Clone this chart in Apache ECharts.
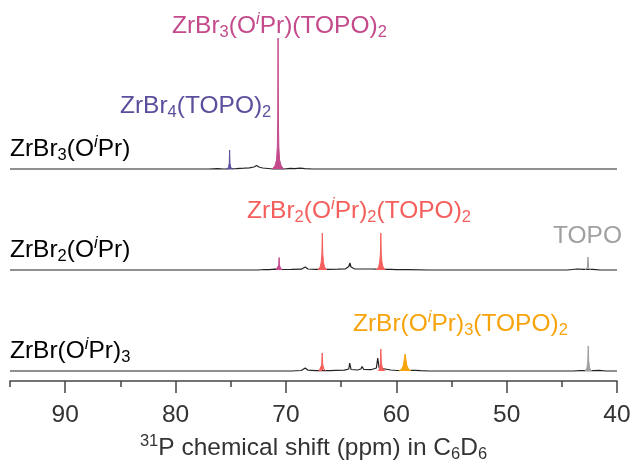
<!DOCTYPE html>
<html>
<head>
<meta charset="utf-8">
<script src="https://cdn.jsdelivr.net/npm/echarts@6/dist/echarts.min.js"></script>
<style>
  html, body { margin: 0; padding: 0; background: #fff; }
  #main { width: 632px; height: 464px; }
</style>
</head>
<body>
<div id="main"></div>
<script>
// tick values of the ppm axis
const tickLabels = [90, 80, 70, 60, 50, 40];
const minorTicks = [95, 85, 75, 65, 55, 45];

// [ppm, intensity], one black baseline per spectrum
const topBase = [[95,0],[90,0],[86,0],[80,0],[77,0],[76.2,0.3],[75.6,0],[74.5,0.4],[73.8,0.8],[73.3,1.2],[72.9,2],[72.65,3.5],[72.45,2],[72.1,1],[71.6,0.5],[71.2,0],[70.2,0],[69.6,0.6],[69.2,0.3],[68.7,0.9],[68.3,0.4],[67.6,0],[60,0],[52,0],[45,0],[40,0]];
const midBase = [[95,0],[80,0],[72.5,0],[72,0.5],[71.5,0.3],[71,0.8],[70.2,0.5],[69.5,0.6],[68.6,0.8],[68.25,3],[68.0,1],[67.3,0.6],[66.2,0.6],[65.3,0.8],[64.6,1.2],[64.3,3.5],[64.2,7],[64.1,3],[63.8,1.2],[63,1.0],[62.2,1],[61.8,0.8],[61,0.6],[60.5,0.6],[60,0.3],[59,0.3],[57,0],[50,0],[44.5,0],[43.6,1],[43,0.6],[42.2,0.6],[41.5,0],[40,0]];
const lowBase = [[95,0],[75,0],[69.5,0],[68.6,0.5],[68.25,3],[68.0,0.8],[67.3,0.3],[66,0.3],[65.5,0.6],[64.7,0.8],[64.3,2],[64.22,8],[64.1,1.5],[63.5,1],[63.2,2],[63.1,4.5],[62.95,1.5],[62.3,1.3],[61.8,3],[61.68,13],[61.55,3],[60.5,1],[59.9,0.5],[58.3,0.6],[57.8,0.3],[57,0],[50,0],[44,0],[43.3,0.4],[42.2,0.4],[41.6,0.6],[41,0],[40,0]];

// coloured peaks
const topPurple = [[75.4,0],[75.2,1.5],[75.13,6],[75.1,19],[75.07,6],[75.0,1.5],[74.8,0]];
const topPink = [[71.25,0],[71.0,3],[70.85,9],[70.78,22],[70.74,50],[70.71,131],[70.68,50],[70.64,22],[70.57,9],[70.42,3],[70.2,0]];
const midPink = [[70.9,0],[70.72,2],[70.65,5],[70.62,12.5],[70.58,5],[70.5,2],[70.3,0]];
const midRed1 = [[67.1,0],[66.9,3],[66.8,8],[66.74,16],[66.7,37],[66.66,16],[66.6,8],[66.5,3],[66.3,0]];
const midRed2 = [[61.8,0],[61.6,3],[61.5,8],[61.44,16],[61.4,37],[61.36,16],[61.3,8],[61.2,3],[61.0,0]];
const midGray = [[42.9,0],[42.7,2],[42.63,13],[42.57,2],[42.4,0]];
const lowRed1 = [[67.0,0],[66.85,2],[66.76,6],[66.71,18],[66.66,6],[66.55,2],[66.4,0]];
const lowRed2 = [[61.6,0],[61.5,3],[61.44,8],[61.4,22],[61.35,8],[61.25,3],[61.0,0]];
const lowOrange = [[59.75,0],[59.5,2],[59.35,6],[59.27,12],[59.2,17],[59.13,12],[59.05,6],[58.9,2],[58.65,0]];
const lowGray = [[42.9,0],[42.72,3],[42.65,10],[42.61,25],[42.56,10],[42.48,3],[42.3,0]];

const FONT = 'Liberation Sans, Arial, sans-serif';
const C = { pink: '#c44a8c', purple: '#5a4f9c', red: '#f45f5c', orange: '#f7a30c', gray: '#a0a0a0', black: '#222' };
const OFF = { top: 212, mid: 111, low: 10 };

function rich(color) {
  const t = { color: color, fontFamily: FONT, fontWeight: 'normal' };
  return {
    n: Object.assign({ fontSize: 24.5, lineHeight: 30 }, t),
    b: Object.assign({ fontSize: 16.5, lineHeight: 14, verticalAlign: 'bottom' }, t),
    p: Object.assign({ fontSize: 16.5, lineHeight: 20, verticalAlign: 'top', fontStyle: 'italic' }, t),
    s: Object.assign({ fontSize: 16.5, lineHeight: 20, verticalAlign: 'top' }, t)
  };
}
function label(text, color, left, top) {
  return { text: text, left: left, top: top, padding: 0,
    textStyle: { fontWeight: 'normal', rich: rich(color) } };
}
function shift(arr, off) {
  return arr.map(function (d) { return [d[0], d[1] + off]; });
}
function base(arr, off) {
  return { type: 'line', data: shift(arr, off), symbol: 'none', z: 2,
    lineStyle: { color: C.black, width: 1.2 } };
}
function peak(arr, off, color) {
  return { type: 'line', data: shift(arr, off), symbol: 'none', z: 3,
    lineStyle: { color: color, width: 1 },
    areaStyle: { color: color, opacity: 1, origin: off } };
}

const chart = echarts.init(document.getElementById('main'));
chart.setOption({
  animation: false,
  title: [
    label('{n|ZrBr}{b|3}{n|(O}{p|i}{n|Pr)(TOPO)}{b|2}', C.pink, 172, 11),
    label('{n|ZrBr}{b|4}{n|(TOPO)}{b|2}', C.purple, 120, 91),
    label('{n|ZrBr}{b|3}{n|(O}{p|i}{n|Pr)}', '#000', 10, 134),
    label('{n|ZrBr}{b|2}{n|(O}{p|i}{n|Pr)}{b|2}{n|(TOPO)}{b|2}', C.red, 247, 196),
    label('{n|TOPO}', C.gray, 553, 221),
    label('{n|ZrBr}{b|2}{n|(O}{p|i}{n|Pr)}', '#000', 10, 235),
    label('{n|ZrBr(O}{p|i}{n|Pr)}{b|3}{n|(TOPO)}{b|2}', C.orange, 353, 309),
    label('{n|ZrBr(O}{p|i}{n|Pr)}{b|3}', '#000', 10, 336)
  ],
  grid: { left: 10, right: 15, top: 0, bottom: 83, outerBoundsMode: 'none' },
  xAxis: [{
    type: 'value', min: 40, max: 95, inverse: true,
    splitLine: { show: false },
    axisLine: { lineStyle: { color: '#444', width: 1.5 } },
    axisTick: { customValues: tickLabels, length: 12, lineStyle: { color: '#444', width: 1.5 } },
    axisLabel: { customValues: tickLabels, margin: 22, fontSize: 24.5, color: '#333', fontFamily: FONT },
    name: '{s|31}{n|P chemical shift (ppm) in C}{b|6}{n|D}{b|6}',
    nameLocation: 'middle', nameGap: 51,
    nameTextStyle: { rich: rich('#333') }
  }, {
    type: 'value', min: 40, max: 95, inverse: true, position: 'bottom',
    splitLine: { show: false },
    axisLine: { show: false },
    axisTick: { customValues: minorTicks, length: 6, lineStyle: { color: '#444', width: 1.5 } },
    axisLabel: { show: false }
  }],
  yAxis: { type: 'value', min: 0, max: 381, show: false },
  series: [
    base(topBase, OFF.top), base(midBase, OFF.mid), base(lowBase, OFF.low),
    peak(topPurple, OFF.top, C.purple), peak(topPink, OFF.top, C.pink),
    peak(midPink, OFF.mid, C.pink), peak(midRed1, OFF.mid, C.red),
    peak(midRed2, OFF.mid, C.red), peak(midGray, OFF.mid, C.gray),
    peak(lowRed1, OFF.low, C.red), peak(lowRed2, OFF.low, C.red),
    peak(lowOrange, OFF.low, C.orange), peak(lowGray, OFF.low, C.gray)
  ]
});
</script>
</body>
</html>
